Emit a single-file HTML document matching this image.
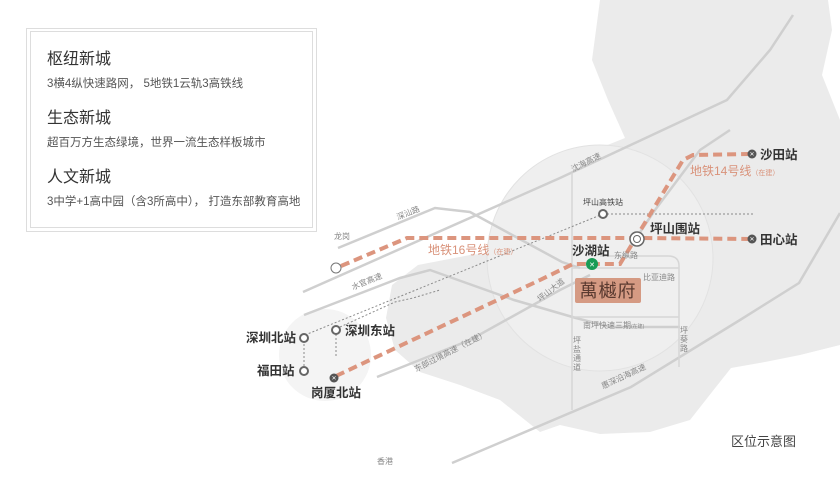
<!DOCTYPE html>
<html><head><meta charset="utf-8"><style>
html,body{margin:0;padding:0;background:#fff}
svg{display:block}
text{font-family:"Liberation Sans","Noto Sans CJK SC",sans-serif}
</style></head><body>
<svg width="840" height="480" viewBox="0 0 840 480" xmlns="http://www.w3.org/2000/svg">
<rect width="840" height="480" fill="#fff"/>
<path d="M600,0 L828,0 L832,30 L822,75 L840,120 L840,345 L800,355 L765,362 L731,368 L712,392 L690,420 L650,432 L600,434 L560,425 L540,432 L500,400 L460,385 L420,372 L395,350 L386,318 L392,285 L418,265 L470,255 L520,250 L540,225 L545,180 L565,160 L600,148 L625,138 L608,100 L592,60 Z" fill="#ebebeb"/>
<circle cx="600" cy="258" r="113" fill="#efefef" stroke="#e2e2e2" stroke-width="1"/>
<circle cx="325" cy="355" r="46" fill="#f4f4f4"/>
<g fill="none" stroke="#cfcfcf" stroke-width="2.5">
<polyline points="303,292 560,178 727,100 770,50 793,15"/>
<polyline points="304,315 400,278 430,270 514,300 576,318 610,327 680,327"/>
<polyline points="338,248 435,208 470,212 562,262 580,268"/>
<polyline points="452,463 631,387 740,320 799,283 840,213"/>
<polyline points="377,377 470,340 560,290 590,275"/>
<polyline points="620,262 655,210 700,150 730,130"/>
</g>
<g fill="none" stroke="#d6d6d6" stroke-width="1.5">
<polyline points="572,173 572,410"/>
<polyline points="572,268 679,268"/>
<path d="M600,256 L668,256 Q679,256 679,266 L679,367"/>
<polyline points="572,317 679,317"/>
</g>
<g fill="none" stroke="#8a8a8a" stroke-width="1" stroke-dasharray="2,2">
<polyline points="305,335 603,214"/>
<polyline points="603,214 755,214"/>
<polyline points="340,327 395,302 413,298 440,290"/>
<line x1="304" y1="340" x2="304" y2="368"/>
<line x1="336" y1="334" x2="336" y2="358"/>
</g>
<g fill="none" stroke="#dc957e" stroke-width="4" stroke-dasharray="9,5">
<polyline points="341,266 407,238 637,238 752,239"/>
<polyline points="336,376 540,280 573,264 620,264 683,160 693,155 752,154"/>
</g>
<circle cx="336" cy="268" r="5" fill="#fff" stroke="#777" stroke-width="1"/>
<circle cx="637" cy="239" r="7" fill="#fff" stroke="#666" stroke-width="1.5"/>
<circle cx="637" cy="239" r="3.5" fill="none" stroke="#666" stroke-width="1"/>
<circle cx="592" cy="264" r="6" fill="#1a9b55"/>
<text x="592" y="267" font-size="7" fill="#fff" text-anchor="middle">✕</text>
<g fill="#555">
<circle cx="752" cy="154" r="4.5"/><circle cx="752" cy="239" r="4.5"/><circle cx="334" cy="378" r="4.5"/>
</g>
<g fill="#fff" font-size="6" text-anchor="middle">
<text x="752" y="156">✕</text><text x="752" y="241">✕</text><text x="334" y="380">✕</text>
</g>
<g fill="#fff" stroke="#666" stroke-width="2">
<circle cx="603" cy="214" r="4"/><circle cx="304" cy="338" r="4"/><circle cx="304" cy="371" r="4"/><circle cx="336" cy="330" r="4"/>
</g>
<rect x="575" y="278" width="66" height="25" rx="2" fill="#d59a83"/>
<text x="608" y="297" font-size="18" fill="#5a3a30" text-anchor="middle" font-family="Liberation Serif,Noto Serif CJK SC,serif" letter-spacing="1">萬樾府</text>
<g fill="#333" font-size="12.5" font-weight="bold">
<text x="760" y="159">沙田站</text>
<text x="760" y="244">田心站</text>
<text x="650" y="233">坪山围站</text>
<text x="572" y="255">沙湖站</text>
<text x="246" y="342">深圳北站</text>
<text x="257" y="375">福田站</text>
<text x="345" y="335">深圳东站</text>
<text x="311" y="397">岗厦北站</text>
</g>
<text x="583" y="205" font-size="8" fill="#444">坪山高铁站</text>
<text x="428" y="254" font-size="12" fill="#d9927a">地铁16号线<tspan font-size="7">（在建）</tspan></text>
<text x="690" y="175" font-size="12" fill="#d9927a">地铁14号线<tspan font-size="7">（在建）</tspan></text>
<g fill="#888" font-size="8">
<text x="334" y="239">龙岗</text>
<text x="398" y="220" transform="rotate(-22 398 220)">深汕路</text>
<text x="353" y="290" transform="rotate(-22 353 290)">水官高速</text>
<text x="416" y="372" transform="rotate(-27 416 372)">东部过境高速（在建）</text>
<text x="573" y="172" transform="rotate(-27 573 172)">沈海高速</text>
<text x="540" y="302" transform="rotate(-38 540 302)">坪山大道</text>
<text x="603" y="389" transform="rotate(-25 603 389)">惠深沿海高速</text>
<text x="614" y="258">东纵路</text>
<text x="643" y="280">比亚迪路</text>
<text x="583" y="328">南坪快速三期<tspan font-size="5">(在建)</tspan></text>
<text x="377" y="464">香港</text>
</g>
<g fill="#888" font-size="8" text-anchor="middle">
<text x="577" y="343">坪</text><text x="577" y="352">盐</text><text x="577" y="361">通</text><text x="577" y="370">道</text>
<text x="684" y="333">坪</text><text x="684" y="342">葵</text><text x="684" y="351">路</text>
</g>
<text x="731" y="446" font-size="13" fill="#444">区位示意图</text>
<rect x="26.5" y="28.5" width="290" height="203" fill="#fff" stroke="#ddd"/>
<rect x="30.5" y="31.5" width="282" height="196" fill="none" stroke="#ddd"/>
<g fill="#333" font-size="16">
<text x="47" y="64">枢纽新城</text>
<text x="47" y="123">生态新城</text>
<text x="47" y="182">人文新城</text>
</g>
<g fill="#555" font-size="11.5">
<text x="47" y="87">3横4纵快速路网， 5地铁1云轨3高铁线</text>
<text x="47" y="146">超百万方生态绿境，世界一流生态样板城市</text>
<text x="47" y="205">3中学+1高中园（含3所高中）， 打造东部教育高地</text>
</g>
</svg>
</body></html>
